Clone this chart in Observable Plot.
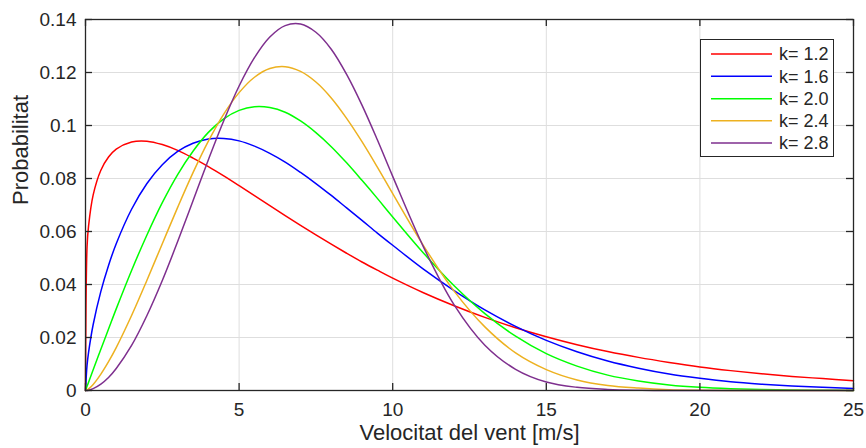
<!DOCTYPE html>
<html>
<head>
<meta charset="utf-8">
<script src="https://cdn.jsdelivr.net/npm/d3@7"></script>
<script src="https://cdn.jsdelivr.net/npm/@observablehq/plot@0.6"></script>
<style>
  body { margin: 0; background: #fff; }
  #wrap { position: relative; width: 866px; height: 448px; overflow: hidden; font-family: "Liberation Sans", Arial, Helvetica, sans-serif; }
  #legend { position: absolute; left: 700px; top: 39px; width: 134px; height: 118px; box-sizing: border-box; border: 1px solid #262626; background: #fff; }
</style>
</head>
<body>
<div id="wrap"></div>
<script>
// Wind speed samples (m/s)
const xs = [0, 0.05, 0.1, 0.25, 0.5, 0.75, 1, 1.5, 2, 2.5, 3, 3.5, 4, 4.5, 5, 5.5, 6, 6.5, 7, 7.5, 8, 8.5, 9, 9.5, 10,
            11, 12, 13, 14, 15, 16, 17, 18, 19, 20, 21, 22, 23, 24, 25];

// Series labels and values
const seriesLabels = ["k= 1.2", "k= 1.6", "k= 2.0", "k= 2.4", "k= 2.8"];
const seriesColors = ["#ff0000", "#0000ff", "#00ff00", "#EDB120", "#7E2F8E"];

const k12 = [0, 0.0542, 0.0621, 0.0738, 0.0831, 0.0881, 0.0911, 0.0938, 0.0941, 0.0928, 0.0906, 0.0877, 0.0845, 0.0810, 0.0773, 0.0735, 0.0698, 0.0660, 0.0623, 0.0587, 0.0552, 0.0518, 0.0485, 0.0454, 0.0424,
             0.0369, 0.0320, 0.0276, 0.0237, 0.0203, 0.0173, 0.0147, 0.0125, 0.0106, 0.0089, 0.0075, 0.0063, 0.0053, 0.0045, 0.0037];
const k16 = [0, 0.0095, 0.0144, 0.0249, 0.0374, 0.0472, 0.0554, 0.0684, 0.0781, 0.0852, 0.0902, 0.0933, 0.0949, 0.0951, 0.0942, 0.0922, 0.0895, 0.0862, 0.0823, 0.0781, 0.0736, 0.0689, 0.0642, 0.0594, 0.0548,
             0.0458, 0.0377, 0.0304, 0.0242, 0.0189, 0.0146, 0.0111, 0.0084, 0.0062, 0.0046, 0.0033, 0.0024, 0.0017, 0.0012, 0.0008];
const k20 = [0, 0.0016, 0.0031, 0.0078, 0.0156, 0.0232, 0.0308, 0.0453, 0.0587, 0.0709, 0.0815, 0.0903, 0.0974, 0.1025, 0.1057, 0.1071, 0.1068, 0.1050, 0.1017, 0.0973, 0.0920, 0.0859, 0.0793, 0.0725, 0.0655,
             0.0519, 0.0395, 0.0290, 0.0205, 0.0139, 0.0092, 0.0058, 0.0036, 0.0021, 0.0012, 0.0007, 0.0004, 0.0002, 0.0001, 0.0000];
const k24 = [0, 0.0002, 0.0006, 0.0023, 0.0062, 0.0109, 0.0162, 0.0283, 0.0416, 0.0554, 0.0691, 0.0822, 0.0941, 0.1043, 0.1124, 0.1182, 0.1215, 0.1222, 0.1204, 0.1164, 0.1104, 0.1027, 0.0939, 0.0843, 0.0743,
             0.0547, 0.0375, 0.0240, 0.0142, 0.0079, 0.0040, 0.0019, 0.0009, 0.0003, 0.0001, 0, 0, 0, 0, 0];
const k28 = [0, 0.0000, 0.0001, 0.0007, 0.0024, 0.0049, 0.0083, 0.0170, 0.0283, 0.0415, 0.0562, 0.0716, 0.0871, 0.1018, 0.1149, 0.1256, 0.1334, 0.1377, 0.1383, 0.1352, 0.1288, 0.1193, 0.1077, 0.0946, 0.0808,
             0.0542, 0.0323, 0.0171, 0.0080, 0.0032, 0.0012, 0.0004, 0.0001, 0, 0, 0, 0, 0, 0, 0];

// Axis ticks and labels
const xTicks = [0, 5, 10, 15, 20, 25];
const yTicks = [0, 0.02, 0.04, 0.06, 0.08, 0.1, 0.12, 0.14];
const yTickLabels = ["0", "0.02", "0.04", "0.06", "0.08", "0.1", "0.12", "0.14"];
const xLabel = "Velocitat del vent [m/s]";
const yLabel = "Probabilitat";

const seriesValues = [k12, k16, k20, k24, k28];
const data = seriesValues.flatMap((vals, i) => vals.map((v, j) => ({x: xs[j], y: v, k: seriesLabels[i]})));

const W = 866, H = 448;
const mL = 85, mR = 13, mT = 19, mB = 58;
const innerH = H - mT - mB;
const innerW = W - mL - mR;
const tickLen = 7;
const ink = "#262626";
const font = "'Liberation Sans', Arial, Helvetica, sans-serif";

const chart = Plot.plot({
  width: W,
  height: H,
  marginLeft: mL,
  marginRight: mR,
  marginTop: mT,
  marginBottom: mB,
  style: {background: "#fff", fontFamily: font, color: ink},
  x: {domain: [0, 25], label: null},
  y: {domain: [0, 0.14], label: null},
  color: {domain: seriesLabels, range: seriesColors},
  marks: [
    Plot.gridX(xTicks, {stroke: "#dedede", strokeOpacity: 1}),
    Plot.gridY(yTicks, {stroke: "#dedede", strokeOpacity: 1}),
    Plot.line(data, {x: "x", y: "y", z: "k", stroke: "k", curve: "catmull-rom", strokeWidth: 1.5}),
    // inward ticks on all four sides
    Plot.tickX(xTicks, {x: d => d, insetTop: innerH - tickLen, stroke: ink, strokeWidth: 1.3}),
    Plot.tickX(xTicks, {x: d => d, insetBottom: innerH - tickLen, stroke: ink, strokeWidth: 1.3}),
    Plot.tickY(yTicks, {y: d => d, insetRight: innerW - tickLen, stroke: ink, strokeWidth: 1.3}),
    Plot.tickY(yTicks, {y: d => d, insetLeft: innerW - tickLen, stroke: ink, strokeWidth: 1.3}),
    Plot.frame({stroke: ink, strokeWidth: 1.3}),
    Plot.axisX(xTicks, {tickSize: 0, tickPadding: 12, fontSize: 19, fill: ink, label: null}),
    Plot.axisY(yTicks, {tickSize: 0, tickPadding: 9, fontSize: 19, fill: ink, label: null,
      tickFormat: d => yTickLabels[yTicks.indexOf(d)]}),
    Plot.text([xLabel], {frameAnchor: "bottom", dy: 49.5, text: d => d, fontSize: 22, fill: ink}),
    Plot.text([yLabel], {frameAnchor: "left", dx: -65, rotate: -90, text: d => d, fontSize: 22, fill: ink})
  ]
});

const wrap = document.getElementById("wrap");
wrap.appendChild(chart);

// Legend box (top right, inside the axes)
const legend = document.createElement("div");
legend.id = "legend";
const ns = "http://www.w3.org/2000/svg";
const lsvg = document.createElementNS(ns, "svg");
lsvg.setAttribute("width", 132);
lsvg.setAttribute("height", 116);
lsvg.style.display = "block";
const rowY = [14, 36.3, 58.7, 80.7, 103];
seriesLabels.forEach((lab, i) => {
  const ln = document.createElementNS(ns, "line");
  ln.setAttribute("x1", 10); ln.setAttribute("x2", 71);
  ln.setAttribute("y1", rowY[i]); ln.setAttribute("y2", rowY[i]);
  ln.setAttribute("stroke", seriesColors[i]); ln.setAttribute("stroke-width", 1.5);
  lsvg.appendChild(ln);
  const tx = document.createElementNS(ns, "text");
  tx.setAttribute("x", 78); tx.setAttribute("y", rowY[i]);
  tx.setAttribute("dy", "0.35em");
  tx.setAttribute("font-size", 18);
  tx.setAttribute("fill", ink);
  tx.setAttribute("font-family", font);
  tx.textContent = lab;
  lsvg.appendChild(tx);
});
legend.appendChild(lsvg);
wrap.appendChild(legend);
</script>
</body>
</html>
